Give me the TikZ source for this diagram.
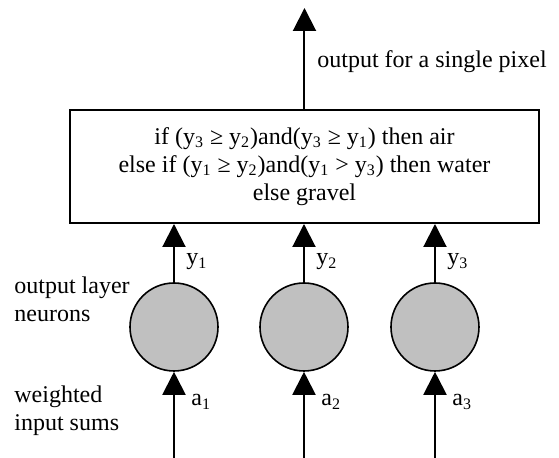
\documentclass[tikz,border=0pt]{standalone}
\usepackage{fontspec}
\setmainfont{Liberation Serif}
\usepackage{xcolor}
\definecolor{gris}{HTML}{C0C0C0}
\usetikzlibrary{arrows.meta}

\begin{document}
\begin{tikzpicture}[x=0.5pt,y=-0.5pt,font=\fontsize{12}{14}\selectfont,
  fleche/.style={-{Triangle[length=11.5pt,width=11.5pt]},line width=1pt},
  neurone/.style={circle,draw,line width=0.8pt,fill=gris,minimum size=44pt,inner sep=0pt},
  etiq/.style={inner sep=0pt,anchor=west,align=left}
]
\useasboundingbox (0,0) rectangle (559,458);
% ---- regle de decision ----
\node[draw,line width=1pt,minimum width=234.5pt,minimum height=56.5pt,align=center] (regle) at (304.5,166.5)
  {if (y\textsubscript{3} ≥ y\textsubscript{2})and(y\textsubscript{3} ≥ y\textsubscript{1}) then air\\
   else if (y\textsubscript{1} ≥ y\textsubscript{2})and(y\textsubscript{1} > y\textsubscript{3}) then water\\
   else gravel};
\coordinate (sortie) at (304.5,8);
\draw[fleche] (regle.north) -- (sortie);
\node[etiq] (pixel) at (317,62) {output for a single pixel};
% ---- neurones de sortie ----
\foreach \i/\x in {1/174,2/304,3/435}{
  \node[neurone] (n\i) at (\x,327) {};
  \coordinate (e\i) at (\x,458);
  \draw[fleche] (e\i) -- (n\i.south);
  \draw[fleche] (n\i.north) -- (n\i.north |- regle.south);
  \node[etiq] (y\i) at (\x+12,262) {y\textsubscript{\i}};
  \node[etiq] (a\i) at (\x+17,402) {a\textsubscript{\i}};
}
% ---- legendes ----
\node[etiq] (couche) at (14,299.5) {output layer\\neurons};
\node[etiq] (sommes) at (14,411) {weighted\\input sums};
\end{tikzpicture}
\end{document}
